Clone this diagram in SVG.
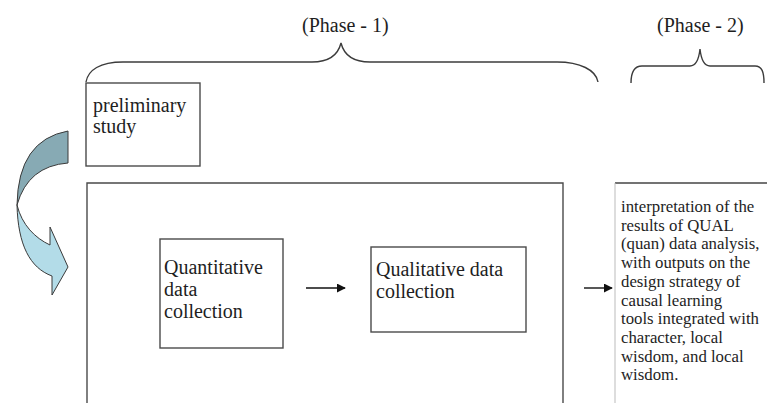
<svg xmlns="http://www.w3.org/2000/svg" width="767" height="403" viewBox="0 0 767 403">
<defs>
<style>
.t{font-family:"Liberation Serif","Times New Roman",serif;fill:#1e1e1e;}
.box{fill:#fff;stroke:#4a4a4a;stroke-width:1.4;}
.brace{fill:none;stroke:#3c3c3c;stroke-width:1.4;}
.conn{stroke:#111;stroke-width:1.4;fill:none;}
</style>
<marker id="ah" viewBox="0 0 10 10" refX="9" refY="5" markerWidth="9" markerHeight="9" markerUnits="userSpaceOnUse" orient="auto">
<path d="M0,0 L10,5 L0,10 Z" fill="#111"/>
</marker>
</defs>
<rect width="767" height="403" fill="#fff"/>

<g id="phase1-label">
<text class="t" x="302" y="32" font-size="20">(Phase - 1)</text>
<path class="brace" d="M86,82 C88,70 100,62 123,62 L312,62 C330,62 338,55 341,43 C344,55 352,62 370,62 L557,62 C580,62 596,70 598,82"/>
</g>
<g id="phase2-label">
<text class="t" x="657" y="32" font-size="20">(Phase - 2)</text>
<path class="brace" d="M631,83 C631,72 634,66 642,66 L690,66 C697,66 699,58 700,49 C701,58 703,66 710,66 L755,66 C762,66 764,72 764,83"/>
</g>

<g id="curved-arrow" stroke="#3a3a3a" stroke-width="1">
<path d="M68,131 L68,163 Q28,166 17,205 Q18,140 68,131 Z" fill="#87aab4"/>
<path d="M17,205 C18,245 30,268 52,276 L52,295 L68,267 L50,227 L50,245 C35,238 22,225 17,205 Z" fill="#b3dce8"/>
</g>

<g id="preliminary-study">
<rect class="box" x="86" y="83" width="114" height="83"/>
<text class="t" font-size="20"><tspan x="93" y="112">preliminary</tspan><tspan x="93" y="133">study</tspan></text>
</g>

<g id="phase1-box">
<path d="M87,403 L87,183 L563,183 L563,403" fill="none" stroke="#4a4a4a" stroke-width="1.4"/>
</g>

<g id="quantitative">
<rect class="box" x="160" y="239" width="123" height="109"/>
<text class="t" font-size="20"><tspan x="164" y="274">Quantitative</tspan><tspan x="164" y="296">data</tspan><tspan x="164" y="318">collection</tspan></text>
</g>

<g id="qualitative">
<rect class="box" x="371" y="247" width="155" height="85"/>
<text class="t" font-size="20"><tspan x="376" y="276">Qualitative data</tspan><tspan x="376" y="298">collection</tspan></text>
</g>

<g id="interpretation">
<path d="M615,183 L767,183" stroke="#444" stroke-width="1.6" fill="none"/>
<path d="M615,183 L615,403" stroke="#bbb" stroke-width="1" fill="none"/>
<text class="t" font-size="16.8"><tspan x="621" y="212">interpretation of the</tspan><tspan x="621" y="230.7">results of QUAL</tspan><tspan x="621" y="249.4">(quan) data analysis,</tspan><tspan x="621" y="268.1">with outputs on the</tspan><tspan x="621" y="286.8">design strategy of</tspan><tspan x="621" y="305.5">causal learning</tspan><tspan x="621" y="324.2">tools integrated with</tspan><tspan x="621" y="342.9">character, local</tspan><tspan x="621" y="361.6">wisdom, and local</tspan><tspan x="621" y="380.3">wisdom.</tspan></text>
</g>

<g id="connectors">
<line class="conn" x1="306" y1="288" x2="345" y2="288" marker-end="url(#ah)"/>
<line class="conn" x1="584" y1="288" x2="612" y2="288" marker-end="url(#ah)"/>
</g>
</svg>
